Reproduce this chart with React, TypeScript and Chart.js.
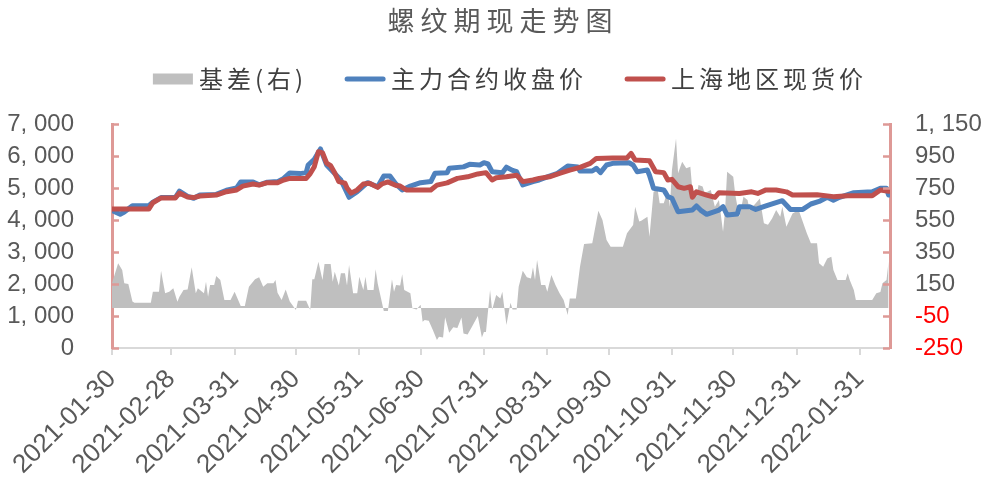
import React, { useEffect, useRef } from 'react';
import { Chart, registerables } from 'chart.js';

Chart.register(...registerables);

const titleText = '螺纹期现走势图';
const seriesNames = ['基差(右)', '主力合约收盘价', '上海地区现货价'];

const startDate = '2021-01-30';
const endDate = '2022-02-14';
const xTickDates = [
  '2021-01-30', '2021-02-28', '2021-03-31', '2021-04-30', '2021-05-31', '2021-06-30',
  '2021-07-31', '2021-08-31', '2021-09-30', '2021-10-31', '2021-11-30', '2021-12-31', '2022-01-31',
];
const leftTicks = [0, 1000, 2000, 3000, 4000, 5000, 6000, 7000];
const rightTicks = [-250, -50, 150, 350, 550, 750, 950, 1150];

const spotDates = [
  '2021-01-30', '2021-02-17', '2021-02-19', '2021-02-23', '2021-03-02', '2021-03-04', '2021-03-08', '2021-03-11',
  '2021-03-14', '2021-03-22', '2021-03-27', '2021-04-01', '2021-04-04', '2021-04-09', '2021-04-12', '2021-04-16',
  '2021-04-21', '2021-04-24', '2021-04-27', '2021-05-05', '2021-05-07', '2021-05-09', '2021-05-11', '2021-05-13',
  '2021-05-15', '2021-05-17', '2021-05-19', '2021-05-21', '2021-05-24', '2021-05-25', '2021-05-27', '2021-05-30',
  '2021-06-02', '2021-06-05', '2021-06-09', '2021-06-11', '2021-06-14', '2021-06-18', '2021-06-20', '2021-06-23',
  '2021-07-05', '2021-07-08', '2021-07-13', '2021-07-18', '2021-07-23', '2021-07-28', '2021-08-01', '2021-08-04',
  '2021-08-06', '2021-08-11', '2021-08-16', '2021-08-19', '2021-08-24', '2021-08-27', '2021-09-01', '2021-09-06',
  '2021-09-11', '2021-09-16', '2021-09-21', '2021-09-24', '2021-10-02', '2021-10-09', '2021-10-11', '2021-10-13',
  '2021-10-20', '2021-10-23', '2021-10-27', '2021-10-29', '2021-10-31', '2021-11-03', '2021-11-06', '2021-11-09',
  '2021-11-10', '2021-11-12', '2021-11-17', '2021-11-21', '2021-11-23', '2021-12-03', '2021-12-09', '2021-12-12',
  '2021-12-16', '2021-12-21', '2021-12-26', '2021-12-29', '2022-01-10', '2022-01-18', '2022-01-25', '2022-02-06',
  '2022-02-10', '2022-02-14',
];
const spotValues = [
  4340, 4340, 4540, 4690, 4690, 4840, 4720, 4700,
  4750, 4780, 4885, 4940, 5060, 5125, 5090, 5166,
  5166, 5250, 5300, 5300, 5450, 5667, 6135, 6100,
  5780, 5700, 5470, 5200, 5150, 5000, 4840, 4940,
  5125, 5150, 5020, 5125, 5190, 5080, 5060, 4940,
  4940, 5090, 5160, 5300, 5350, 5440, 5480, 5250,
  5320, 5350, 5400, 5200, 5250, 5300, 5350, 5460,
  5560, 5645, 5770, 5925, 5940, 5940, 6083, 5875,
  5850, 5510, 5480, 5250, 5270, 5040, 4990, 5040,
  4710, 4880, 4780, 4710, 4855, 4830, 4880, 4830,
  4940, 4940, 4880, 4780, 4790, 4730, 4760, 4760,
  4940, 4900,
];

const futuresDates = [
  '2021-01-30', '2021-02-03', '2021-02-05', '2021-02-09', '2021-02-17', '2021-02-19', '2021-02-23', '2021-03-02',
  '2021-03-04', '2021-03-08', '2021-03-11', '2021-03-14', '2021-03-22', '2021-03-27', '2021-04-01', '2021-04-03',
  '2021-04-09', '2021-04-12', '2021-04-16', '2021-04-21', '2021-04-24', '2021-04-27', '2021-05-02', '2021-05-05',
  '2021-05-06', '2021-05-09', '2021-05-12', '2021-05-15', '2021-05-22', '2021-05-26', '2021-05-30', '2021-06-04',
  '2021-06-09', '2021-06-12', '2021-06-15', '2021-06-18', '2021-06-21', '2021-06-25', '2021-06-30', '2021-07-05',
  '2021-07-07', '2021-07-13', '2021-07-14', '2021-07-21', '2021-07-24', '2021-07-29', '2021-07-31', '2021-08-02',
  '2021-08-04', '2021-08-09', '2021-08-11', '2021-08-14', '2021-08-16', '2021-08-19', '2021-08-24', '2021-08-27',
  '2021-08-31', '2021-09-05', '2021-09-10', '2021-09-15', '2021-09-16', '2021-09-22', '2021-09-24', '2021-09-26',
  '2021-09-29', '2021-10-02', '2021-10-10', '2021-10-12', '2021-10-14', '2021-10-19', '2021-10-20', '2021-10-22',
  '2021-10-27', '2021-10-29', '2021-10-31', '2021-11-02', '2021-11-03', '2021-11-10', '2021-11-12', '2021-11-14',
  '2021-11-17', '2021-11-23', '2021-11-25', '2021-11-27', '2021-12-02', '2021-12-03', '2021-12-08', '2021-12-11',
  '2021-12-16', '2021-12-24', '2021-12-28', '2022-01-03', '2022-01-07', '2022-01-11', '2022-01-15', '2022-01-18',
  '2022-01-21', '2022-01-28', '2022-02-06', '2022-02-10', '2022-02-13', '2022-02-14',
];
const futuresValues = [
  4300, 4180, 4250, 4448, 4450, 4560, 4700, 4700,
  4900, 4740, 4680, 4780, 4800, 4930, 5000, 5190,
  5190, 5100, 5180, 5200, 5300, 5470, 5450, 5480,
  5720, 5900, 6220, 5720, 5250, 4710, 4885, 5166,
  5040, 5375, 5375, 5120, 4940, 5060, 5166, 5200,
  5458, 5480, 5615, 5660, 5740, 5720, 5790, 5750,
  5510, 5480, 5650, 5550, 5510, 5094, 5200, 5250,
  5350, 5460, 5690, 5660, 5530, 5530, 5615, 5480,
  5720, 5770, 5790, 5720, 5510, 5560, 5400, 4990,
  4940, 4730, 4680, 4400, 4260, 4310, 4440, 4310,
  4177, 4310, 4417, 4156, 4190, 4417, 4417, 4330,
  4440, 4604, 4330, 4330, 4500, 4580, 4708, 4620,
  4708, 4855, 4880, 4990, 4990, 4780,
];

const basisDates = [
  '2021-01-30', '2021-02-02', '2021-02-04', '2021-02-05', '2021-02-07', '2021-02-09', '2021-02-10', '2021-02-18',
  '2021-02-19', '2021-02-22', '2021-02-23', '2021-02-25', '2021-02-27', '2021-03-01', '2021-03-03', '2021-03-04',
  '2021-03-06', '2021-03-08', '2021-03-10', '2021-03-12', '2021-03-13', '2021-03-16', '2021-03-17', '2021-03-18',
  '2021-03-19', '2021-03-21', '2021-03-22', '2021-03-24', '2021-03-26', '2021-03-29', '2021-03-31', '2021-04-03',
  '2021-04-05', '2021-04-07', '2021-04-10', '2021-04-12', '2021-04-14', '2021-04-16', '2021-04-19', '2021-04-20',
  '2021-04-21', '2021-04-23', '2021-04-25', '2021-04-27', '2021-04-30', '2021-05-01', '2021-05-05', '2021-05-07',
  '2021-05-08', '2021-05-09', '2021-05-11', '2021-05-13', '2021-05-14', '2021-05-17', '2021-05-18', '2021-05-19',
  '2021-05-21', '2021-05-22', '2021-05-24', '2021-05-25', '2021-05-26', '2021-05-28', '2021-05-30', '2021-05-31',
  '2021-06-02', '2021-06-03', '2021-06-04', '2021-06-07', '2021-06-08', '2021-06-09', '2021-06-12', '2021-06-14',
  '2021-06-16', '2021-06-17', '2021-06-18', '2021-06-20', '2021-06-21', '2021-06-22', '2021-06-25', '2021-06-26',
  '2021-06-28', '2021-06-30', '2021-07-01', '2021-07-02', '2021-07-04', '2021-07-06', '2021-07-08', '2021-07-09',
  '2021-07-11', '2021-07-12', '2021-07-14', '2021-07-16', '2021-07-18', '2021-07-20', '2021-07-21', '2021-07-23',
  '2021-07-25', '2021-07-28', '2021-07-30', '2021-07-31', '2021-08-01', '2021-08-03', '2021-08-04', '2021-08-06',
  '2021-08-08', '2021-08-09', '2021-08-11', '2021-08-13', '2021-08-14', '2021-08-16', '2021-08-17', '2021-08-19',
  '2021-08-21', '2021-08-23', '2021-08-24', '2021-08-25', '2021-08-26', '2021-08-28', '2021-08-30', '2021-08-31',
  '2021-09-02', '2021-09-04', '2021-09-06', '2021-09-08', '2021-09-10', '2021-09-11', '2021-09-14', '2021-09-16',
  '2021-09-18', '2021-09-22', '2021-09-25', '2021-09-27', '2021-09-29', '2021-10-01', '2021-10-07', '2021-10-09',
  '2021-10-12', '2021-10-13', '2021-10-15', '2021-10-16', '2021-10-19', '2021-10-20', '2021-10-22', '2021-10-24',
  '2021-10-25', '2021-10-27', '2021-10-29', '2021-10-30', '2021-10-31', '2021-11-02', '2021-11-03', '2021-11-05',
  '2021-11-07', '2021-11-09', '2021-11-10', '2021-11-12', '2021-11-13', '2021-11-15', '2021-11-16', '2021-11-19',
  '2021-11-21', '2021-11-23', '2021-11-25', '2021-11-26', '2021-11-27', '2021-11-30', '2021-12-01', '2021-12-03',
  '2021-12-05', '2021-12-07', '2021-12-08', '2021-12-11', '2021-12-13', '2021-12-15', '2021-12-17', '2021-12-19',
  '2021-12-21', '2021-12-23', '2021-12-24', '2021-12-26', '2021-12-29', '2022-01-01', '2022-01-05', '2022-01-07',
  '2022-01-10', '2022-01-11', '2022-01-13', '2022-01-15', '2022-01-17', '2022-01-18', '2022-01-20', '2022-01-24',
  '2022-01-25', '2022-01-26', '2022-01-28', '2022-01-29', '2022-02-06', '2022-02-08', '2022-02-10', '2022-02-11',
  '2022-02-13', '2022-02-14',
];
const basisValues = [
  154, 279, 237, 154, 150, 40, 33, 33,
  102, 102, 233, 92, 102, 123, 39, 70,
  112, 116, 254, 92, 123, 92, 164, 71,
  144, 144, 200, 175, 50, 50, 102, 12,
  12, 133, 179, 192, 133, 154, 154, 175,
  95, 50, 116, 40, -13, 46, 46, -13,
  179, 179, 289, 175, 275, 275, 164, 227,
  140, 217, 217, 140, 269, 92, 92, 196,
  112, 196, 112, 112, 242, 154, -19, -19,
  179, 102, 143, 140, 211, 112, 92, -2,
  -10, 20, -86, -75, -80, -137, -200, -179,
  -185, -58, -154, -120, -125, -60, -160, -165,
  -120, -50, -185, -150, -150, 112, -12, 81,
  60, 102, -106, 33, -10, -10, 133, 233,
  192, 185, 254, 175, 300, 144, 144, 102,
  206, 144, 92, 50, -44, 60, 60, 258,
  400, 404, 608, 550, 425, 383, 383, 467,
  519, 633, 540, 545, 570, 446, 727, 740,
  654, 654, 737, 633, 862, 1060, 842, 914,
  873, 883, 737, 695, 769, 760, 717, 737,
  633, 675, 477, 612, 852, 821, 706, 570,
  696, 675, 612, 654, 685, 530, 520, 560,
  612, 570, 633, 508, 591, 612, 467, 404,
  404, 279, 258, 310, 320, 237, 175, 175,
  217, 175, 112, 50, 50, 92, 100, 154,
  175, 290,
];

const GRAY = '#BFBFBF';
const BLUE = '#4F81BD';
const RED = '#C0504D';
const AXIS_RED = '#DE9996';
const TEXT = '#595959';

function dayOf(d: string): number {
  const [y, m, dd] = d.split('-').map(Number);
  const [y0, m0, d0] = startDate.split('-').map(Number);
  return (Date.UTC(y, m - 1, dd) - Date.UTC(y0, m0 - 1, d0)) / 86400000;
}

function toPoints(dates: string[], values: number[]) {
  return dates.map((d, i) => ({ x: dayOf(d), y: values[i] }));
}

function fmt(v: number): string {
  const s = Math.abs(v).toString().replace(/\B(?=(\d{3})+(?!\d))/g, ', ');
  return (v < 0 ? '-' : '') + s;
}

function spacedWidth(ctx: CanvasRenderingContext2D, text: string, spacing: number) {
  let w = 0;
  const chars = Array.from(text);
  chars.forEach((c, i) => {
    w += ctx.measureText(c).width + (i < chars.length - 1 ? spacing : 0);
  });
  return w;
}

function drawSpaced(ctx: CanvasRenderingContext2D, text: string, x: number, y: number, spacing: number) {
  let cx = x;
  Array.from(text).forEach((c) => {
    ctx.fillText(c, cx, y);
    cx += ctx.measureText(c).width + spacing;
  });
}

const decorPlugin = {
  id: 'decor',
  afterDraw(chart: any) {
    const ctx: CanvasRenderingContext2D = chart.ctx;
    const { left, right } = chart.chartArea;
    ctx.save();

    // inside tick marks on both value axes
    ctx.strokeStyle = AXIS_RED;
    ctx.lineWidth = 2.5;
    const yL = chart.scales.y;
    const yR = chart.scales.y1;
    ctx.beginPath();
    yL.ticks.forEach((t: any) => {
      const py = Math.round(yL.getPixelForValue(t.value)) + 0.5;
      ctx.moveTo(left, py);
      ctx.lineTo(left + 7, py);
    });
    yR.ticks.forEach((t: any) => {
      const py = Math.round(yR.getPixelForValue(t.value)) + 0.5;
      ctx.moveTo(right - 7, py);
      ctx.lineTo(right, py);
    });
    ctx.stroke();

    // title
    ctx.fillStyle = TEXT;
    ctx.textBaseline = 'middle';
    ctx.textAlign = 'left';
    ctx.font = '27px "Noto Sans CJK SC", sans-serif';
    const tSp = 6;
    const tw = spacedWidth(ctx, titleText, tSp);
    drawSpaced(ctx, titleText, 500 - tw / 2, 21, tSp);

    // legend
    const ds = chart.data.datasets;
    ctx.font = '24px "Noto Sans CJK SC", sans-serif';
    const lSp = 4;
    const symW = 40;
    const symGap = 6;
    const itemGap = 42;
    const widths = ds.map((d: any) => symW + symGap + spacedWidth(ctx, d.label, lSp));
    const total = widths.reduce((a: number, b: number) => a + b, 0) + itemGap * (ds.length - 1);
    let x = 508 - total / 2;
    const ly = 79;
    ds.forEach((d: any, i: number) => {
      if (i === 0) {
        ctx.fillStyle = d.backgroundColor;
        ctx.fillRect(x, ly - 5.5, symW, 11);
      } else {
        ctx.strokeStyle = d.borderColor;
        ctx.lineWidth = 5;
        ctx.lineCap = 'round';
        ctx.beginPath();
        ctx.moveTo(x + 2, ly);
        ctx.lineTo(x + symW - 2, ly);
        ctx.stroke();
      }
      ctx.fillStyle = '#404040';
      drawSpaced(ctx, d.label, x + symW + symGap, ly, lSp);
      x += widths[i] + itemGap;
    });
    ctx.restore();
  },
};

export default function App() {
  const canvasRef = useRef<HTMLCanvasElement | null>(null);

  useEffect(() => {
    document.body.style.margin = '0';
    const canvas = canvasRef.current;
    if (!canvas) return;
    const tickFont = { family: '"Liberation Sans", Arial, sans-serif', size: 24 };
    const xTickFont = { family: '"Liberation Sans", Arial, sans-serif', size: 26 };
    const chart = new Chart(canvas, {
      type: 'line',
      data: {
        datasets: [
          {
            label: seriesNames[0],
            data: toPoints(basisDates, basisValues),
            yAxisID: 'y1',
            backgroundColor: GRAY,
            borderColor: GRAY,
            borderWidth: 0,
            pointRadius: 0,
            tension: 0,
            fill: 'origin',
            order: 3,
          },
          {
            label: seriesNames[1],
            data: toPoints(futuresDates, futuresValues),
            yAxisID: 'y',
            borderColor: BLUE,
            backgroundColor: BLUE,
            borderWidth: 5,
            pointRadius: 0,
            tension: 0,
            fill: false,
            borderJoinStyle: 'round',
            borderCapStyle: 'round',
            order: 2,
          },
          {
            label: seriesNames[2],
            data: toPoints(spotDates, spotValues),
            yAxisID: 'y',
            borderColor: RED,
            backgroundColor: RED,
            borderWidth: 5,
            pointRadius: 0,
            tension: 0,
            fill: false,
            borderJoinStyle: 'round',
            borderCapStyle: 'round',
            order: 1,
          },
        ],
      } as any,
      options: {
        animation: false,
        responsive: false,
        events: [],
        layout: { padding: { top: 124, left: 0, right: 0, bottom: 0 } },
        plugins: {
          legend: { display: false },
          title: { display: false },
          tooltip: { enabled: false },
        },
        scales: {
          x: {
            type: 'linear',
            position: 'bottom',
            min: 0,
            max: dayOf(endDate) + 0.7,
            afterBuildTicks: (s: any) => {
              s.ticks = xTickDates.map((d) => ({ value: dayOf(d) }));
            },
            afterFit: (s: any) => {
              s.height = 137;
            },
            ticks: {
              autoSkip: false,
              maxRotation: 45,
              minRotation: 45,
              color: TEXT,
              font: xTickFont,
              padding: 9,
              callback: (_v: any, i: number) => xTickDates[i],
            },
            grid: {
              display: true,
              drawOnChartArea: false,
              drawTicks: true,
              tickLength: 7,
              color: '#D9D9D9',
              lineWidth: 2,
            },
            border: { display: true, color: '#D9D9D9', width: 2 },
          },
          y: {
            type: 'linear',
            position: 'left',
            min: 0,
            max: 7000,
            afterBuildTicks: (s: any) => {
              s.ticks = leftTicks.map((v) => ({ value: v }));
            },
            afterFit: (s: any) => {
              s.width = 112;
            },
            ticks: {
              color: TEXT,
              font: tickFont,
              padding: 38,
              callback: (v: any) => fmt(Number(v)),
            },
            grid: { display: true, drawOnChartArea: false, drawTicks: false },
            border: { display: true, color: AXIS_RED, width: 3 },
          },
          y1: {
            type: 'linear',
            position: 'right',
            min: -250,
            max: 1150,
            afterBuildTicks: (s: any) => {
              s.ticks = rightTicks.map((v) => ({ value: v }));
            },
            afterFit: (s: any) => {
              s.width = 105;
            },
            ticks: {
              color: (c: any) => (c.tick && c.tick.value < 0 ? '#FF0000' : TEXT),
              font: tickFont,
              padding: 25,
              callback: (v: any) => fmt(Number(v)),
            },
            grid: { display: true, drawOnChartArea: false, drawTicks: false },
            border: { display: true, color: AXIS_RED, width: 3 },
          },
        },
      } as any,
      plugins: [decorPlugin],
    });
    return () => chart.destroy();
  }, []);

  return (
    <div style={{ width: 995, height: 485, position: 'relative' }}>
      <canvas ref={canvasRef} width={995} height={485} style={{ display: 'block' }} />
    </div>
  );
}
